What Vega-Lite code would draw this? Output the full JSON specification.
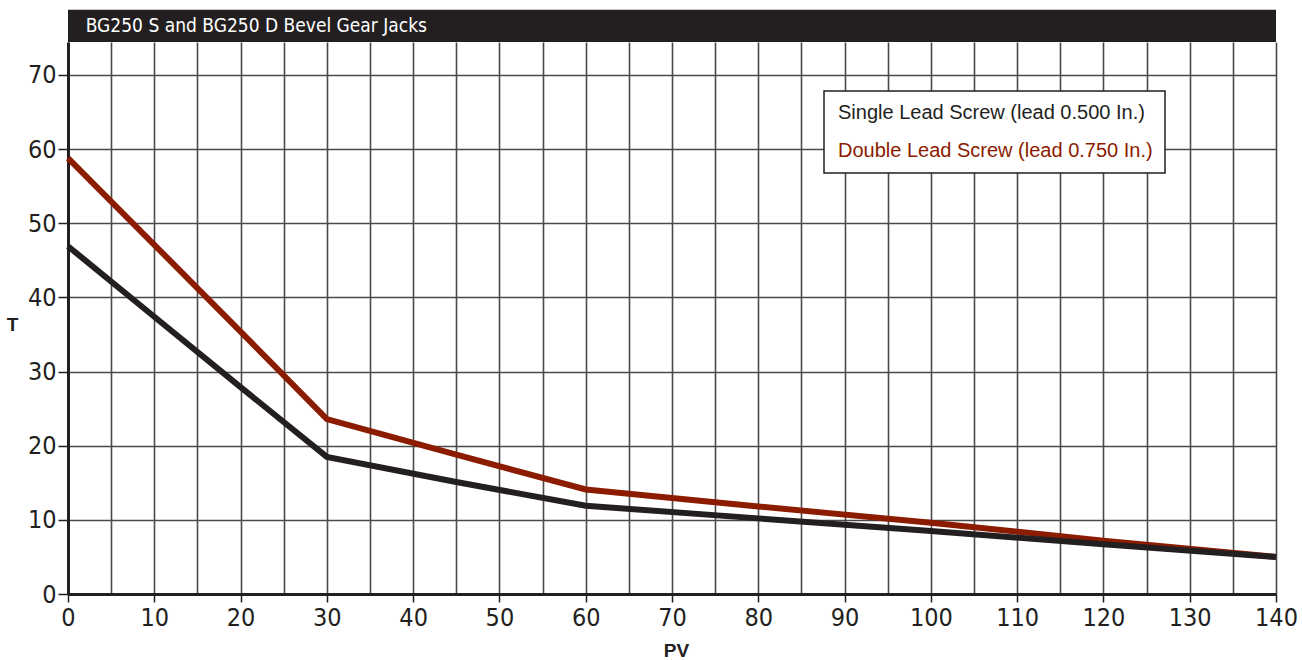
{
  "$schema": "https://vega.github.io/schema/vega-lite/v6.json",
  "autosize": "none",
  "width": 1208,
  "height": 552,
  "padding": {"left": 68, "top": 42, "right": 26, "bottom": 66},
  "background": "white",
  "config": {"view": {"stroke": null}},
  "data": {
    "values": [
      {"series": "Double Lead Screw (lead 0.750 In.)", "PV": 0, "T": 58.8},
      {"series": "Double Lead Screw (lead 0.750 In.)", "PV": 10, "T": 47.1},
      {"series": "Double Lead Screw (lead 0.750 In.)", "PV": 20, "T": 35.4},
      {"series": "Double Lead Screw (lead 0.750 In.)", "PV": 30, "T": 23.6},
      {"series": "Double Lead Screw (lead 0.750 In.)", "PV": 45, "T": 18.8},
      {"series": "Double Lead Screw (lead 0.750 In.)", "PV": 60, "T": 14.1},
      {"series": "Double Lead Screw (lead 0.750 In.)", "PV": 80, "T": 11.8},
      {"series": "Double Lead Screw (lead 0.750 In.)", "PV": 100, "T": 9.6},
      {"series": "Double Lead Screw (lead 0.750 In.)", "PV": 120, "T": 7.2},
      {"series": "Double Lead Screw (lead 0.750 In.)", "PV": 140, "T": 5.0},
      {"series": "Single Lead Screw (lead 0.500 In.)", "PV": 0, "T": 46.9},
      {"series": "Single Lead Screw (lead 0.500 In.)", "PV": 10, "T": 37.4},
      {"series": "Single Lead Screw (lead 0.500 In.)", "PV": 20, "T": 27.9},
      {"series": "Single Lead Screw (lead 0.500 In.)", "PV": 30, "T": 18.5},
      {"series": "Single Lead Screw (lead 0.500 In.)", "PV": 45, "T": 15.1},
      {"series": "Single Lead Screw (lead 0.500 In.)", "PV": 60, "T": 11.9},
      {"series": "Single Lead Screw (lead 0.500 In.)", "PV": 80, "T": 10.2},
      {"series": "Single Lead Screw (lead 0.500 In.)", "PV": 100, "T": 8.5},
      {"series": "Single Lead Screw (lead 0.500 In.)", "PV": 120, "T": 6.7},
      {"series": "Single Lead Screw (lead 0.500 In.)", "PV": 140, "T": 5.0}
    ]
  },
  "layer": [
    {
      "mark": {"type": "line", "strokeWidth": 6, "strokeJoin": "miter", "strokeCap": "butt"},
      "encoding": {
        "x": {
          "field": "PV", "type": "quantitative",
          "scale": {"domain": [0, 140], "nice": false, "zero": false},
          "axis": {
            "values": [0,5,10,15,20,25,30,35,40,45,50,55,60,65,70,75,80,85,90,95,100,105,110,115,120,125,130,135,140],
            "grid": true, "gridColor": "#4a4a4a", "gridWidth": 1.6,
            "domain": true, "domainColor": "#231f20", "domainWidth": 3,
            "ticks": true, "tickColor": "#231f20", "tickWidth": 1.5, "tickSize": 8,
            "tickOpacity": {"condition": {"test": "datum.value % 10 === 0", "value": 1}, "value": 0},
            "labelExpr": "datum.value % 10 === 0 ? datum.label : ''",
            "labelFont": "DejaVu Sans Condensed, Liberation Sans", "labelFontSize": 25, "labelColor": "#231f20",
            "labelPadding": 3, "labelFlush": false,
            "title": "PV", "titleFont": "Liberation Sans", "titleFontSize": 19, "titleFontWeight": "bold",
            "titleColor": "#231f20", "titleX": 608, "titleY": 56, "titleBaseline": "middle", "titleAlign": "center"
          }
        },
        "y": {
          "field": "T", "type": "quantitative",
          "scale": {"domain": [0, 74.45], "nice": false, "zero": false},
          "axis": {
            "values": [0,5,10,15,20,25,30,35,40,45,50,55,60,65,70],
            "grid": true, "gridColor": "#4a4a4a", "gridWidth": 1.6,
            "domain": true, "domainColor": "#231f20", "domainWidth": 3,
            "ticks": true, "tickColor": "#231f20", "tickWidth": 1.5, "tickSize": 10,
            "tickOpacity": {"condition": {"test": "datum.value % 10 === 0", "value": 1}, "value": 0},
            "labelExpr": "datum.value % 10 === 0 ? datum.label : ''",
            "labelFont": "DejaVu Sans Condensed, Liberation Sans", "labelFontSize": 25, "labelColor": "#231f20",
            "labelPadding": 2,
            "title": "T", "titleFont": "Liberation Sans", "titleFontSize": 19, "titleFontWeight": "bold",
            "titleColor": "#231f20", "titleAngle": 0, "titleX": -56, "titleY": 282,
            "titleBaseline": "middle", "titleAlign": "center"
          }
        },
        "color": {
          "field": "series", "type": "nominal",
          "scale": {
            "domain": ["Single Lead Screw (lead 0.500 In.)", "Double Lead Screw (lead 0.750 In.)"],
            "range": ["#231f20", "#8c1c00"]
          },
          "legend": {
            "orient": "none", "legendX": 756, "legendY": 49,
            "title": null,
            "fillColor": "white", "strokeColor": "#231f20",
            "padding": 12, "rowPadding": 18,
            "symbolSize": 0, "symbolOpacity": 0, "symbolStrokeWidth": 0, "labelOffset": -18,
            "labelFont": "Liberation Sans", "labelFontSize": 20, "labelLimit": 500,
            "encode": {
              "legend": {"update": {"strokeWidth": {"value": 1.5}}},
              "labels": {"update": {"fill": {"scale": "color", "field": "value"}}}
            }
          }
        }
      }
    },
    {
      "data": {"values": [{"title": "BG250 S and BG250 D Bevel Gear Jacks"}]},
      "mark": {"type": "rect", "color": "#231f20", "clip": false},
      "encoding": {
        "x": {"datum": 0, "type": "quantitative"},
        "x2": {"datum": 140},
        "y": {"datum": 74.45, "type": "quantitative"},
        "y2": {"datum": 78.8}
      }
    },
    {
      "data": {"values": [{"title": "BG250 S and BG250 D Bevel Gear Jacks"}]},
      "mark": {"type": "text", "color": "white", "align": "left", "baseline": "middle",
               "font": "DejaVu Sans Condensed, Liberation Sans", "fontSize": 19},
      "encoding": {
        "x": {"datum": 2.05, "type": "quantitative"},
        "y": {"datum": 76.6, "type": "quantitative"},
        "text": {"field": "title"}
      }
    }
  ]
}
